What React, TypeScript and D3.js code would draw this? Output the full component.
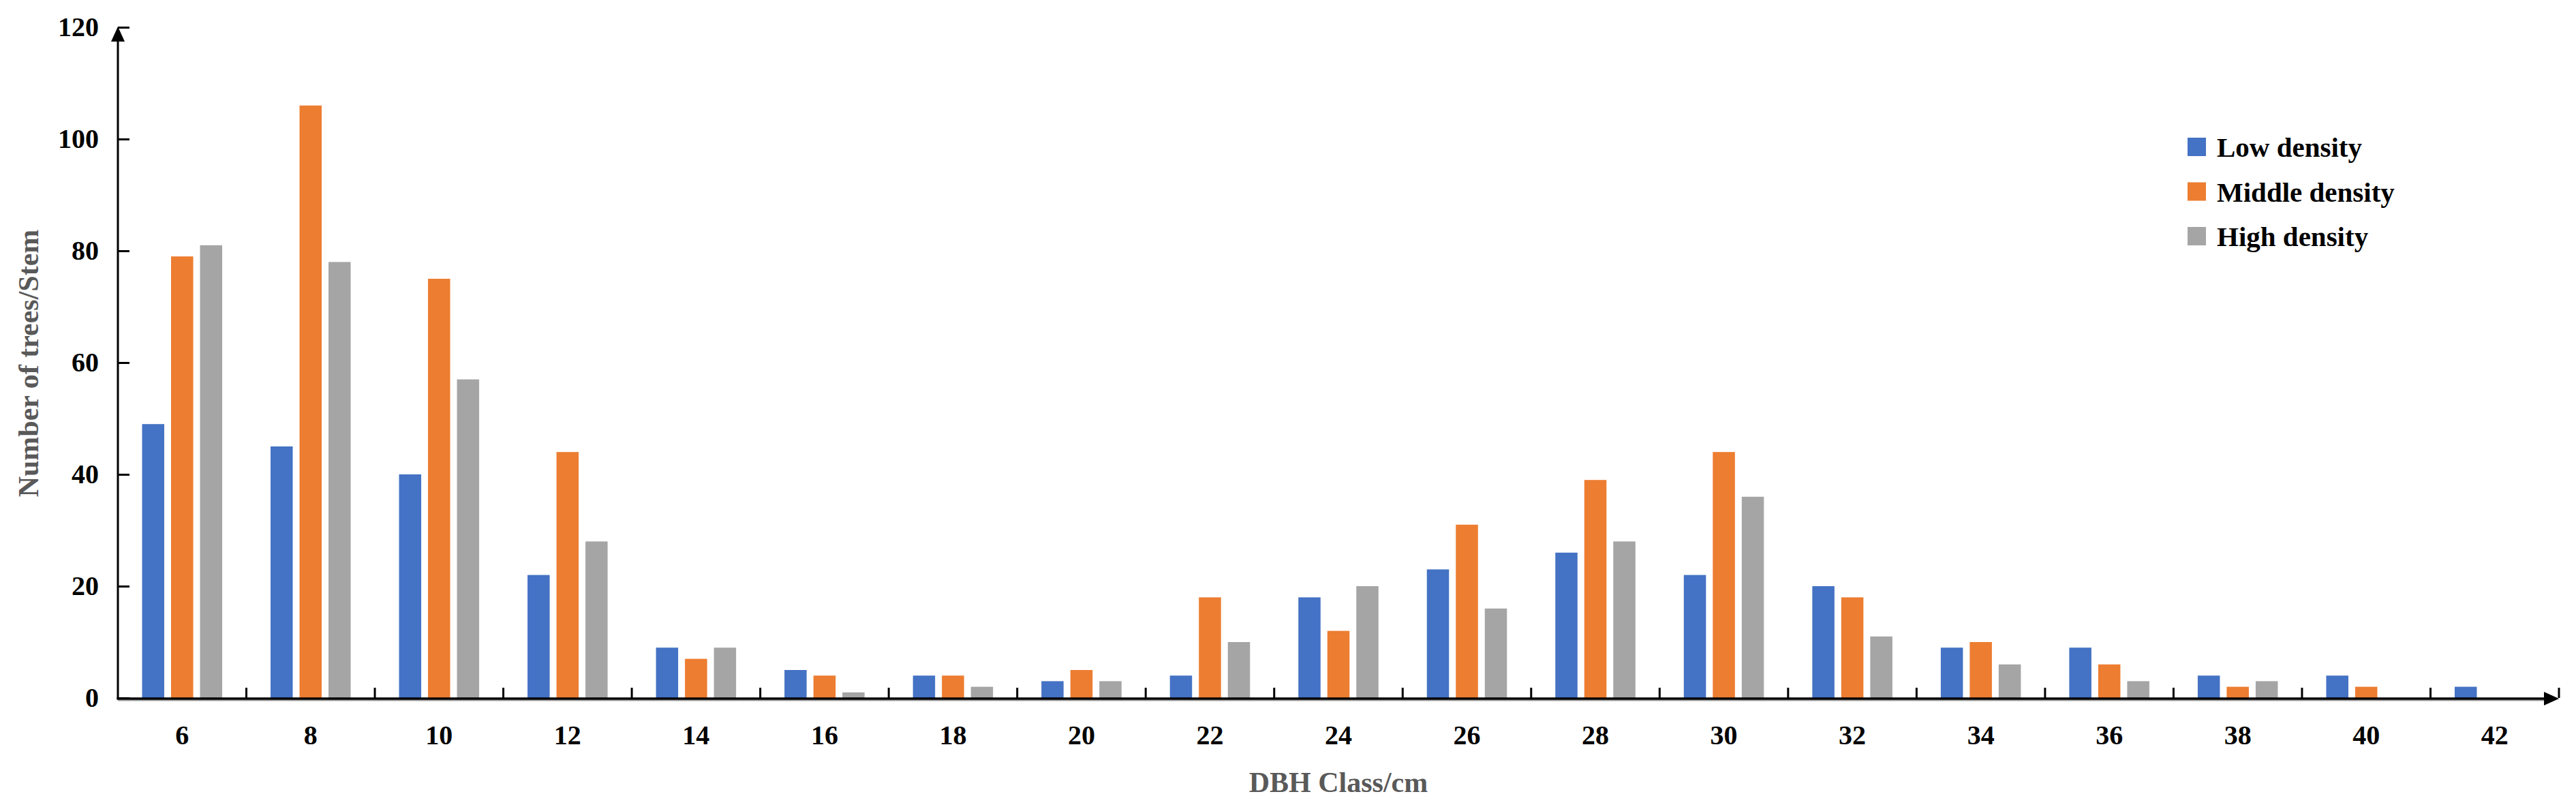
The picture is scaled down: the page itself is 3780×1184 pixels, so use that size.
import { useEffect, useRef } from 'react';
import * as d3 from 'd3';

// DBH classes (cm) and stem counts per stand density
const CLASSES = ['6', '8', '10', '12', '14', '16', '18', '20', '22', '24', '26', '28', '30', '32', '34', '36', '38', '40', '42'];
const SERIES = ['Low density', 'Middle density', 'High density'];
const LOW = [49, 45, 40, 22, 9, 5, 4, 3, 4, 18, 23, 26, 22, 20, 9, 9, 4, 4, 2];
const MIDDLE = [79, 106, 75, 44, 7, 4, 4, 5, 18, 12, 31, 39, 44, 18, 10, 6, 2, 2, 0];
const HIGH = [81, 78, 57, 28, 9, 1, 2, 3, 10, 20, 16, 28, 36, 11, 6, 3, 3, 0, 0];
const Y_TICKS = [0, 20, 40, 60, 80, 100, 120];
const COLORS = ['#4472C4', '#ED7D31', '#A5A5A5'];

const W = 3780;
const H = 1184;
const FONT = '"Liberation Serif", "Times New Roman", serif';

export default function App() {
  const svgRef = useRef<SVGSVGElement>(null);

  useEffect(() => {
    if (!svgRef.current) return;
    const svg = d3.select(svgRef.current);
    svg.selectAll('*').remove();

    const left = 173;
    const right = 3755;
    const y0 = 1024;
    const y120 = 40;

    const x = d3.scaleBand().domain(CLASSES).range([left, right]).padding(0);
    const xs = d3.scaleBand().domain(SERIES).range([0, x.bandwidth()])
      .paddingInner(0.235).paddingOuter(0.835);
    const y = d3.scaleLinear().domain([0, 120]).range([y0, y120]);

    const values = [LOW, MIDDLE, HIGH];

    // bars
    SERIES.forEach((s, si) => {
      svg.append('g')
        .selectAll('rect')
        .data(CLASSES)
        .join('rect')
        .attr('x', (c) => (x(c) || 0) + (xs(s) || 0))
        .attr('width', xs.bandwidth())
        .attr('y', (_, i) => y(values[si][i]))
        .attr('height', (_, i) => y0 - y(values[si][i]))
        .attr('fill', COLORS[si]);
    });

    // y axis
    const yAxis = svg.append('g')
      .attr('transform', `translate(${left},0)`)
      .call(d3.axisLeft(y).tickValues(Y_TICKS).tickSize(-17).tickPadding(28));
    yAxis.select('.domain').remove();
    yAxis.selectAll('.tick line').attr('stroke', '#000').attr('stroke-width', 3);
    yAxis.selectAll('.tick text')
      .attr('font-family', FONT)
      .attr('font-weight', 'bold')
      .attr('font-size', 40)
      .attr('fill', '#000');

    svg.append('line')
      .attr('x1', left).attr('x2', left)
      .attr('y1', y0 + 2).attr('y2', y(120) + 18)
      .attr('stroke', '#000').attr('stroke-width', 3);
    svg.append('path')
      .attr('d', `M${left - 10},${y(120) + 21} L${left},${y(120) - 1} L${left + 10},${y(120) + 21} Z`)
      .attr('fill', '#000');

    // x axis
    const bounds = CLASSES.map((c) => (x(c) || 0) + x.bandwidth());
    svg.append('g')
      .selectAll('line')
      .data(bounds)
      .join('line')
      .attr('x1', (d) => d).attr('x2', (d) => d)
      .attr('y1', y0).attr('y2', y0 - 15)
      .attr('stroke', '#000').attr('stroke-width', 3);

    svg.append('line')
      .attr('x1', left).attr('x2', right - 18)
      .attr('y1', y0 + 3.5).attr('y2', y0 + 3.5)
      .attr('stroke', '#9a9a9a').attr('stroke-width', 2);
    svg.append('line')
      .attr('x1', left - 1.5).attr('x2', right - 18)
      .attr('y1', y0 + 1).attr('y2', y0 + 1)
      .attr('stroke', '#000').attr('stroke-width', 3.5);
    svg.append('path')
      .attr('d', `M${right - 22},${y0 - 9} L${right},${y0 + 1} L${right - 22},${y0 + 11} Z`)
      .attr('fill', '#000');

    svg.append('g')
      .selectAll('text')
      .data(CLASSES)
      .join('text')
      .attr('x', (c) => (x(c) || 0) + x.bandwidth() / 2)
      .attr('y', 1092)
      .attr('text-anchor', 'middle')
      .attr('font-family', FONT)
      .attr('font-weight', 'bold')
      .attr('font-size', 40)
      .attr('fill', '#000')
      .text((c) => c);

    // axis titles
    svg.append('text')
      .attr('x', 1964)
      .attr('y', 1162)
      .attr('text-anchor', 'middle')
      .attr('font-family', FONT)
      .attr('font-weight', 'bold')
      .attr('font-size', 42)
      .attr('fill', '#595959')
      .text('DBH Class/cm');

    svg.append('text')
      .attr('transform', `translate(56,${533}) rotate(-90)`)
      .attr('text-anchor', 'middle')
      .attr('font-family', FONT)
      .attr('font-weight', 'bold')
      .attr('font-size', 42)
      .attr('fill', '#595959')
      .text('Number of trees/Stem');

    // legend
    const legend = svg.append('g').attr('transform', 'translate(3210,0)');
    SERIES.forEach((s, i) => {
      const cy = 216 + i * 65.5;
      legend.append('rect')
        .attr('x', 0).attr('y', cy - 14)
        .attr('width', 27).attr('height', 27)
        .attr('fill', COLORS[i]);
      legend.append('text')
        .attr('x', 43).attr('y', cy + 14)
        .attr('font-family', FONT)
        .attr('font-weight', 'bold')
        .attr('font-size', 41)
        .attr('fill', '#000')
        .text(s);
    });
  }, []);

  return (
    <svg
      ref={svgRef}
      width={W}
      height={H}
      viewBox={`0 0 ${W} ${H}`}
      style={{ position: 'absolute', left: 0, top: 0, background: '#fff' }}
    />
  );
}
